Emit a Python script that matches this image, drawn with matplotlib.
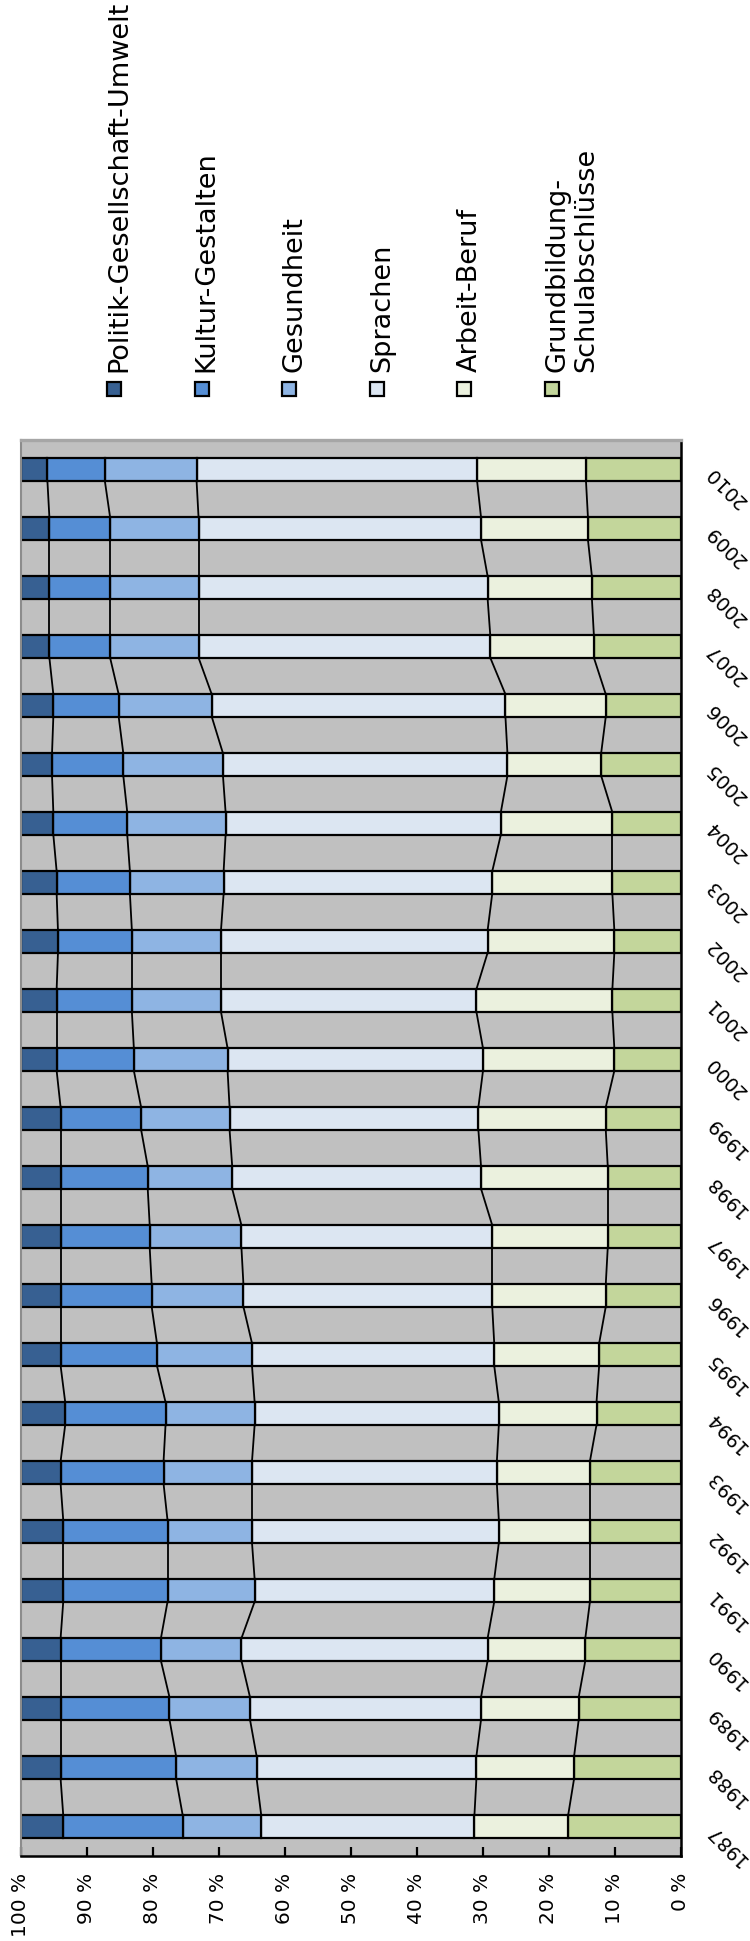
import numpy as np
import matplotlib
matplotlib.use("Agg")
import matplotlib.pyplot as plt
from matplotlib.patches import Rectangle

# Anteile der Fachbereiche je Jahr in Prozent
jahre = list(range(1987, 2011))
grundbildung = [17.1, 16.2, 15.5, 14.5, 13.8, 13.8, 13.8, 12.8, 12.4, 11.4, 11.1, 11.1,
                11.4, 10.1, 10.4, 10.1, 10.4, 10.4, 12.1, 11.4, 13.2, 13.5, 14.1, 14.4]
arbeit = [14.2, 14.8, 14.8, 14.8, 14.5, 13.8, 14.1, 14.8, 15.9, 17.2, 17.5, 19.2,
          19.3, 19.9, 20.6, 19.2, 18.2, 16.9, 14.2, 15.2, 15.7, 15.8, 16.2, 16.5]
sprachen = [32.3, 33.3, 35.0, 37.3, 36.3, 37.4, 37.1, 37.0, 36.7, 37.7, 38.0, 37.7,
            37.7, 38.7, 38.7, 40.4, 40.7, 41.7, 43.1, 44.5, 44.2, 43.8, 42.8, 42.5]
gesundheit = [11.9, 12.2, 12.2, 12.2, 13.2, 12.8, 13.4, 13.5, 14.4, 13.9, 13.9, 12.8,
              13.4, 14.2, 13.5, 13.5, 14.2, 14.9, 15.1, 14.1, 13.4, 13.4, 13.4, 13.9]
kultur = [18.1, 17.5, 16.5, 15.2, 15.8, 15.8, 15.6, 15.2, 14.6, 13.8, 13.5, 13.2,
          12.2, 11.7, 11.4, 11.2, 11.1, 11.2, 10.8, 9.9, 9.2, 9.2, 9.2, 8.7]
politik = [6.4, 6.0, 6.0, 6.0, 6.4, 6.4, 6.0, 6.7, 6.0, 6.0, 6.0, 6.0,
           6.0, 5.4, 5.4, 5.6, 5.4, 4.9, 4.7, 4.9, 4.3, 4.3, 4.3, 4.0]

# Stapelreihenfolge von 0 % aus
reihen = [grundbildung, arbeit, sprachen, gesundheit, kultur, politik]
namen = ["Grundbildung-\nSchulabschlüsse", "Arbeit-Beruf", "Sprachen",
         "Gesundheit", "Kultur-Gestalten", "Politik-Gesellschaft-Umwelt"]
farben = ["#C3D69B", "#EBF1DE", "#DCE6F2", "#8EB4E3", "#558ED5", "#376092"]

W, H = 750, 1941
fig = plt.figure(figsize=(W / 100, H / 100), dpi=100)
fig.patch.set_facecolor("white")

# Diagrammfläche (Pixel: links 21, rechts 681, oben 440, unten 1856)
ax = fig.add_axes([21 / W, (H - 1856) / H, 660 / W, 1416 / H])
ax.set_facecolor("#C0C0C0")

y = np.arange(len(jahre))
h = 0.38
links = np.zeros(len(jahre))
grenzen = []
for werte, farbe in zip(reihen, farben):
    werte = np.array(werte)
    ax.barh(y, werte, left=links, height=h, color=farbe,
            edgecolor="black", linewidth=1.6, zorder=3)
    links = links + werte
    grenzen.append(links.copy())

# Verbindungslinien zwischen den Säulen
for g in grenzen[:-1]:
    for i in range(len(jahre) - 1):
        ax.plot([g[i], g[i + 1]], [y[i] + h / 2, y[i + 1] - h / 2],
                color="black", lw=1.3, zorder=2)

ax.set_xlim(100, 0)
ax.set_ylim(-0.5, len(jahre) - 0.5)

ax.set_xticks(np.arange(0, 101, 10))
ax.set_xticklabels([f"{v} %" for v in range(0, 101, 10)], rotation=90, fontsize=14.5)
ax.tick_params(axis="x", direction="in", length=6.5, width=1.6, pad=12, color="black")

ax.yaxis.tick_right()
ax.set_yticks(y)
ax.set_yticklabels([str(j) for j in jahre], rotation=135, rotation_mode="anchor",
                   ha="right", va="center", fontsize=14)
ax.tick_params(axis="y", length=0, pad=20)

ax.spines["top"].set_color("#A6A6A6")
ax.spines["top"].set_linewidth(2.4)
ax.spines["left"].set_color("#8C8C8C")
ax.spines["left"].set_linewidth(1.5)
ax.spines["bottom"].set_linewidth(1.8)
ax.spines["right"].set_linewidth(1.8)
for s in ax.spines.values():
    s.set_zorder(4)

# Legende oben, gedreht
legende_x = [114, 201.6, 289.2, 376.8, 464.4, 552]
for lx, name, farbe in zip(legende_x, namen[::-1], farben[::-1]):
    fig.add_artist(Rectangle(((lx - 7) / W, (H - 396) / H), 14 / W, 14 / H,
                             transform=fig.transFigure, facecolor=farbe,
                             edgecolor="black", linewidth=1.6))
    for k, zeile in enumerate(name.split("\n")):
        fig.text((lx + 12 + k * 29) / W, (H - 372) / H, zeile, rotation=90,
                 rotation_mode="anchor", ha="left", va="baseline", fontsize=19.5)

fig.savefig("out.png", dpi=100)
